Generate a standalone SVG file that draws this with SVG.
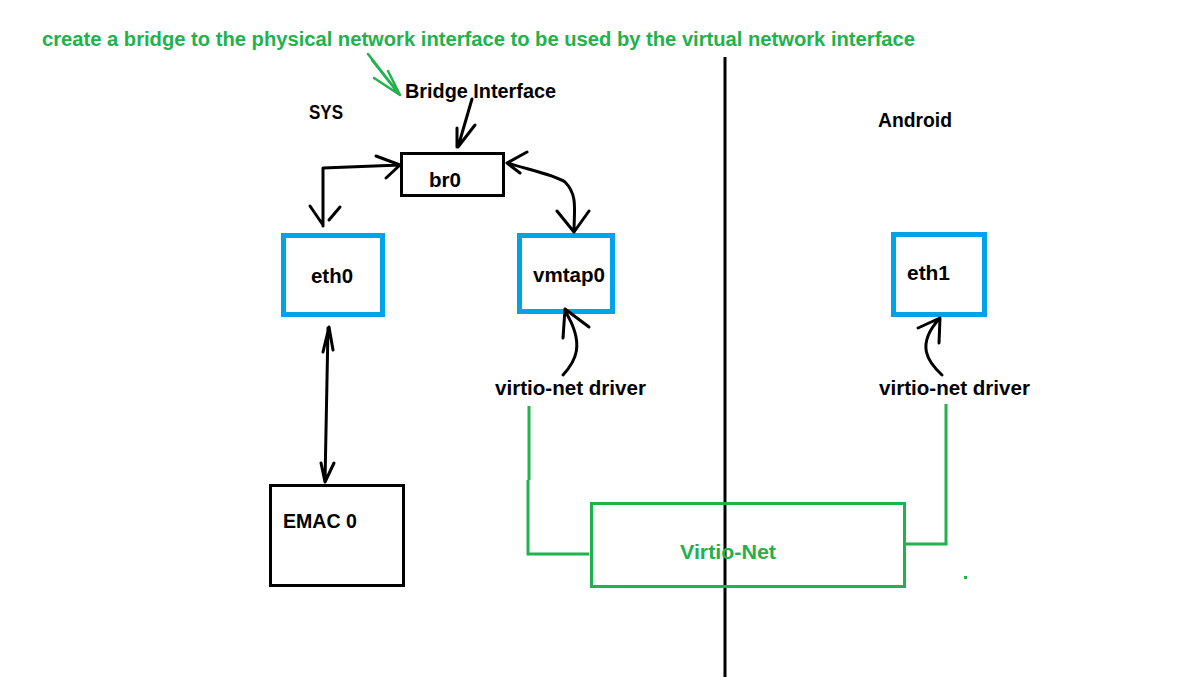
<svg xmlns="http://www.w3.org/2000/svg" width="1203" height="699" viewBox="0 0 1203 699">
<style>
text{font-family:"Liberation Sans",Arial,sans-serif;font-weight:bold;font-size:20.5px;fill:#000}
.g{fill:#22b14c}
.blk{fill:none;stroke:#000;stroke-width:3;stroke-linecap:round;stroke-linejoin:round}
.blue{fill:#fff;stroke:#00a2e8;stroke-width:5}
.box{fill:#fff;stroke:#000;stroke-width:3}
.gl{fill:none;stroke:#22b14c;stroke-width:3}
</style>
<rect width="1203" height="699" fill="#fff"/>
<text class="g" x="42" y="46" style="font-size:19.5px" textLength="873" lengthAdjust="spacingAndGlyphs">create a bridge to the physical network interface to be used by the virtual network interface</text>
<text x="309" y="119" textLength="34" lengthAdjust="spacingAndGlyphs">SYS</text>
<text x="878" y="127" textLength="74" lengthAdjust="spacingAndGlyphs">Android</text>
<g id="divider"><line x1="725" y1="57" x2="725" y2="677" stroke="#000" stroke-width="3"/></g>
<g id="bridge-label">
<text x="405" y="98" textLength="151" lengthAdjust="spacingAndGlyphs">Bridge Interface</text>
</g>
<g id="br0"><rect class="box" x="401.5" y="153.5" width="102" height="42"/><text x="429" y="187" textLength="32" lengthAdjust="spacingAndGlyphs">br0</text></g>
<g id="eth0"><rect class="blue" x="283.5" y="235.5" width="99" height="79"/><text x="311" y="283" textLength="42" lengthAdjust="spacingAndGlyphs">eth0</text></g>
<g id="vmtap0"><rect class="blue" x="519.5" y="235.5" width="93" height="76"/><text x="533" y="282" textLength="72" lengthAdjust="spacingAndGlyphs">vmtap0</text></g>
<g id="eth1"><rect class="blue" x="893.5" y="234.5" width="91" height="80"/><text x="907" y="280" textLength="43" lengthAdjust="spacingAndGlyphs">eth1</text></g>
<g id="emac0"><rect class="box" x="270.5" y="485.5" width="133" height="100"/><text x="283" y="528" textLength="74" lengthAdjust="spacingAndGlyphs">EMAC 0</text></g>
<g id="virtio-net"><rect class="gl" x="591.5" y="503.5" width="313" height="83"/><text class="g" x="680" y="559" textLength="96" lengthAdjust="spacingAndGlyphs">Virtio-Net</text></g>
<g id="driver-left"><text x="495" y="395" textLength="151" lengthAdjust="spacingAndGlyphs">virtio-net driver</text></g>
<g id="driver-right"><text x="879" y="395" textLength="151" lengthAdjust="spacingAndGlyphs">virtio-net driver</text></g>
<g id="connectors">
<path d="M368 54 L400 95 M372 60 L398 93 M374 78 L400 95 M388 71 L400 95" fill="none" stroke="#22b14c" stroke-width="2.5" stroke-linecap="round"/>
<path class="blk" d="M472 99 L458 147 M457 128 L457 147 M475 125 L458 147"/>
<path class="blk" d="M323 226 L323 168 L400 165 M376 156 L400 165 M386 178 L400 165 M310 206 L323 225 M340 207 L329 220"/>
<path class="blk" d="M507 163 C530 170 555 175 565 182 C578 195 574 210 574 232 M527 152 L507 163 L520 173 M557 211 L574 232 L589 211"/>
<path class="blk" d="M328 328 L325 482 M323 352 L329 327 L333 350 M321 463 L325 482 L334 463"/>
<path class="blk" d="M563 375 C575 362 586 345 565 311 M563 338 L565 309 L589 327"/>
<path class="blk" d="M942 375 C928 362 915 345 940 318 M918 328 L940 318 L939 343"/>
<path class="gl" d="M529 406 L529 480 M528 480 L528 554 L589 554"/>
<path class="gl" d="M905 544 L946 544 L946 404"/>
<rect x="964" y="576" width="3" height="3" fill="#22b14c"/>
</g>
</svg>
